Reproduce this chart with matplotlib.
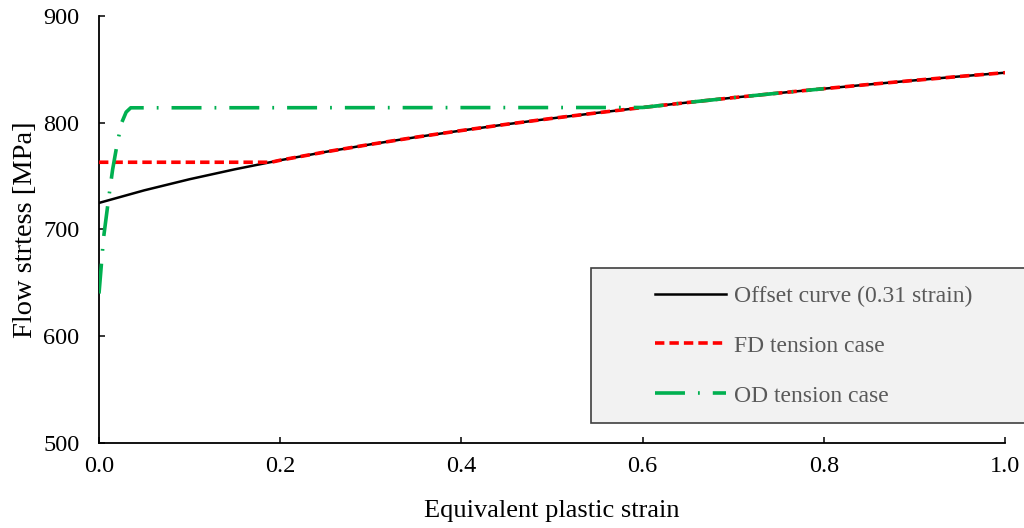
import matplotlib
matplotlib.use("Agg")
import matplotlib.pyplot as plt
from matplotlib.patches import Rectangle

plt.rcParams['font.family'] = ['Liberation Serif', 'DejaVu Serif']

# ---- data ----
offset_strain = [0.0, 0.05, 0.1, 0.15, 0.2, 0.25, 0.3, 0.35, 0.4, 0.45, 0.5,
                 0.55, 0.6, 0.65, 0.7, 0.75, 0.8, 0.85, 0.9, 0.95, 1.0]
offset_stress = [724.9, 736.7, 747.1, 756.4, 764.9, 772.7, 779.8, 786.5, 792.7, 798.6, 804.1,
                 809.3, 814.3, 819.0, 823.5, 827.8, 831.9, 835.9, 839.7, 843.4, 846.9]

fd_strain = [0.0, 0.19, 0.2, 0.25, 0.3, 0.35, 0.4, 0.45, 0.5,
             0.55, 0.6, 0.65, 0.7, 0.75, 0.8, 0.85, 0.9, 0.95, 1.0]
fd_stress = [763.0, 763.0, 764.9, 772.7, 779.8, 786.5, 792.7, 798.6, 804.1,
             809.3, 814.3, 819.0, 823.5, 827.8, 831.9, 835.9, 839.7, 843.4, 846.9]

od_strain = [0.0, 0.005, 0.01, 0.015, 0.02, 0.025, 0.03, 0.035, 0.6, 0.65, 0.7, 0.75, 0.8]
od_stress = [640.0, 692.0, 725.0, 756.0, 780.0, 800.0, 810.0, 814.0, 814.3, 819.0, 823.5, 827.8, 831.9]

labels = ["Offset curve (0.31 strain)", "FD tension case", "OD tension case"]
x_ticks = [0.0, 0.2, 0.4, 0.6, 0.8, 1.0]
y_ticks = [500, 600, 700, 800, 900]

fig = plt.figure(figsize=(10.24, 5.28), dpi=100)
ax = fig.add_axes([99/1024, 1 - 443/528, (1005 - 99)/1024, (443 - 16)/528])

l1, = ax.plot(offset_strain, offset_stress, color='black', lw=1.8, zorder=2)
l2, = ax.plot(fd_strain, fd_stress, color='#ff0000', lw=2.6, dashes=(2.6, 1.4), zorder=3)
l3, = ax.plot(od_strain, od_stress, color='#00b050', lw=2.6, dashes=(8.3, 3.6, 0.5, 3.6),
              zorder=4)

ax.set_xlim(0, 1.0)
ax.set_ylim(500, 900)
ax.set_xticks(x_ticks)
ax.set_xticklabels([f"{t:.1f}" for t in x_ticks])
ax.set_yticks(y_ticks)
ax.tick_params(direction='in', length=4, width=1.1, labelsize=17.5, colors='black')
ax.tick_params(axis='x', pad=9)
ax.tick_params(axis='y', pad=14)
for s in ['top', 'right']:
    ax.spines[s].set_visible(False)
for s in ['left', 'bottom']:
    ax.spines[s].set_linewidth(1.3)

ax.set_xlabel("Equivalent plastic strain", fontsize=19, labelpad=17)
ax.set_ylabel("Flow strtess [MPa]", fontsize=20.5, labelpad=4)

# legend box (extends past the axes to the figure edge)
box = Rectangle((591/1024, 1 - 423/528), 0.45, (423 - 268)/528, transform=fig.transFigure,
                facecolor='#f2f2f2', edgecolor='#404040', lw=1.2, zorder=5, clip_on=False)
fig.patches.append(box)

leg = fig.legend([l1, l2, l3], labels, loc='center left',
                 bbox_to_anchor=(655/1024, 1 - 346/528), frameon=False,
                 fontsize=17, labelspacing=1.2, handlelength=3.0, handletextpad=0.34,
                 borderpad=0, borderaxespad=0)
leg.set_zorder(6)
for t in leg.get_texts():
    t.set_color('#595959')

fig.savefig("out.png", dpi=100)
